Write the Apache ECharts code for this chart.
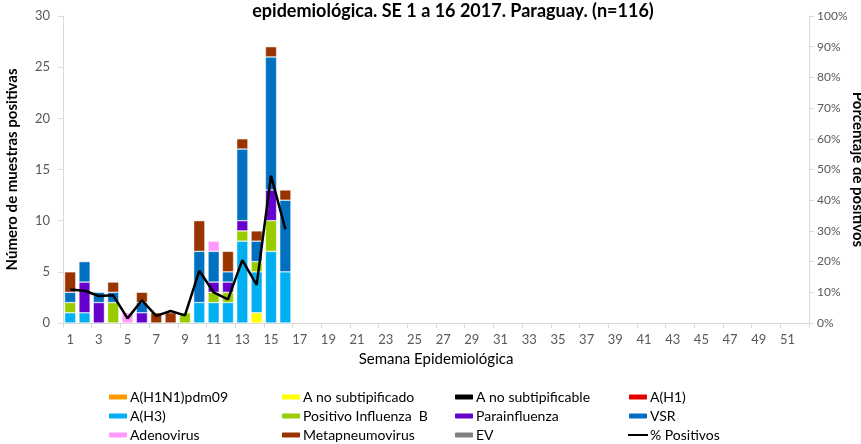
<!DOCTYPE html>
<html>
<head>
<meta charset="utf-8">
<script src="https://cdn.jsdelivr.net/npm/echarts@6/dist/echarts.min.js"></script>
<style>
  html, body { margin: 0; padding: 0; background: #fff; }
  #chart { width: 861px; height: 444px; }
</style>
</head>
<body>
<div id="chart"></div>
<script>
// semanas epidemiológicas 1..52
const weeks = [];
for (let i = 1; i <= 52; i++) weeks.push(String(i));

// casos por semana (SE 1 a 16)
const h1n1pdm = [];
const aNoSubtipificado = [0, 0, 0, 0, 0, 0, 0, 0, 0, 0, 0, 0, 0, 1, 0, 0];
const aNoSubtipificable = [];
const aH1 = [];
const aH3 = [1, 1, 0, 0, 0, 0, 0, 0, 0, 2, 2, 2, 8, 4, 7, 5];
const influenzaB = [1, 0, 0, 2, 0, 0, 0, 0, 1, 0, 1, 1, 1, 1, 3, 0];
const parainfluenza = [0, 3, 2, 0, 0, 1, 0, 0, 0, 0, 1, 1, 1, 0, 3, 0];
const vsr = [1, 2, 1, 1, 0, 1, 0, 0, 0, 5, 3, 1, 7, 2, 13, 7];
const adenovirus = [0, 0, 0, 0, 1, 0, 0, 0, 0, 0, 1, 0, 0, 0, 0, 0];
const metapneumovirus = [2, 0, 0, 1, 0, 1, 1, 1, 0, 3, 0, 2, 1, 1, 1, 1];
const ev = [];
const pctPositivos = [10.9, 10.5, 8.8, 9.0, 1.5, 7.4, 2.3, 3.9, 2.5, 17.0, 10.0, 7.7, 20.5, 12.4, 48.0, 30.6];

const FONT = "Lato, 'Open Sans', sans-serif";

function barSeries(name, data, color) {
  return {
    name: name,
    type: "bar",
    stack: "total",
    data: data.map((v) => (v === 0 ? "-" : v)),
    barCategoryGap: "22%",
    itemStyle: { color: color, borderColor: "#fff", borderWidth: 0.5 },
  };
}

const chart = echarts.init(document.getElementById("chart"), null, { renderer: "canvas" });

const legendBase = {
  orient: "vertical",
  top: 389,
  padding: 0,
  itemWidth: 20,
  itemHeight: 7,
  itemGap: 3,
  selectedMode: false,
  textStyle: { fontFamily: FONT, fontSize: 14, lineHeight: 16, color: "#000", padding: [0, 0, 0, -3] },
};

const option = {
  animation: false,
  title: {
    text: "epidemiológica. SE 1 a 16 2017. Paraguay. (n=116)",
    left: 448,
    textAlign: "center",
    top: -3,
    textStyle: { fontFamily: FONT, fontSize: 18, fontWeight: "bold", color: "#000" },
  },
  legend: [
    Object.assign({}, legendBase, { left: 107, data: ["A(H1N1)pdm09", "A(H3)", "Adenovirus"] }),
    Object.assign({}, legendBase, { left: 280, data: ["A no subtipificado", "Positivo Influenza  B", "Metapneumovirus"] }),
    Object.assign({}, legendBase, { left: 453, data: ["A no subtipificable", "Parainfluenza", "EV"] }),
    Object.assign({}, legendBase, {
      left: 627,
      data: ["A(H1)", "VSR", { name: "% Positivos", itemStyle: { opacity: 0 } }],
    }),
  ],
  grid: { left: 63, right: 52, top: 16, bottom: 121, outerBoundsMode: "none", containLabel: false },
  xAxis: {
    type: "category",
    data: weeks,
    name: "Semana Epidemiológica",
    nameLocation: "middle",
    nameGap: 29,
    nameTextStyle: { fontFamily: FONT, fontSize: 15, color: "#000" },
    axisLine: { lineStyle: { color: "#d9d9d9" } },
    axisTick: { show: true, length: 5, lineStyle: { color: "#d9d9d9" } },
    axisLabel: { interval: 1, fontFamily: FONT, fontSize: 13, color: "#595959", margin: 10 },
  },
  yAxis: [
    {
      type: "value",
      min: 0,
      max: 30,
      interval: 5,
      name: "Número de muestras positivas",
      nameLocation: "middle",
      nameGap: 43,
      nameMoveOverlap: false,
      nameTextStyle: { fontFamily: FONT, fontSize: 15, fontWeight: "bold", color: "#000" },
      axisLine: { show: true, lineStyle: { color: "#d9d9d9" } },
      axisTick: { show: true, length: 5, lineStyle: { color: "#d9d9d9" } },
      axisLabel: { fontFamily: FONT, fontSize: 13, color: "#595959", margin: 13 },
      splitLine: { show: false },
    },
    {
      type: "value",
      min: 0,
      max: 100,
      interval: 10,
      name: "Porcentaje de positivos",
      nameLocation: "middle",
      nameGap: 41,
      nameRotate: -90,
      nameMoveOverlap: false,
      nameTextStyle: { fontFamily: FONT, fontSize: 15, fontWeight: "bold", color: "#000" },
      axisLine: { show: true, lineStyle: { color: "#d9d9d9" } },
      axisTick: { show: true, length: 5, lineStyle: { color: "#d9d9d9" } },
      axisLabel: { formatter: "{value}%", fontFamily: FONT, fontSize: 12, color: "#595959", margin: 8 },
      splitLine: { show: false },
    },
  ],
  series: [
    barSeries("A(H1N1)pdm09", h1n1pdm, "#FF9900"),
    barSeries("A no subtipificado", aNoSubtipificado, "#FFFF00"),
    barSeries("A no subtipificable", aNoSubtipificable, "#000000"),
    barSeries("A(H1)", aH1, "#E00000"),
    barSeries("A(H3)", aH3, "#00B0F0"),
    barSeries("Positivo Influenza  B", influenzaB, "#99CC00"),
    barSeries("Parainfluenza", parainfluenza, "#6600CC"),
    barSeries("VSR", vsr, "#0070C0"),
    barSeries("Adenovirus", adenovirus, "#FF99FF"),
    barSeries("Metapneumovirus", metapneumovirus, "#993300"),
    barSeries("EV", ev, "#808080"),
    {
      name: "% Positivos",
      type: "line",
      yAxisIndex: 1,
      data: pctPositivos,
      symbol: "none",
      lineStyle: { color: "#000", width: 2.5 },
      itemStyle: { color: "#000" },
      z: 5,
    },
  ],
};

chart.setOption(option);
</script>
</body>
</html>
